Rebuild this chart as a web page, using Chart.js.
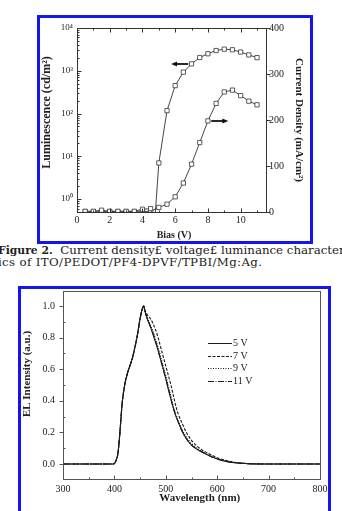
<!DOCTYPE html>
<html>
<head>
<meta charset="utf-8">
<script src="https://cdn.jsdelivr.net/npm/chart.js@4.4.1/dist/chart.umd.min.js"></script>
<style>
body { margin: 0; width: 342px; height: 511px; overflow: hidden; background: #fff; position: relative; }
.box { position: absolute; border: 3px solid #1414ee; box-sizing: border-box; }
canvas { position: absolute; }
#cap { position: absolute; left: -2px; top: 245px; font-family: 'DejaVu Serif', serif; font-size: 11.8px;
       line-height: 11.5px; white-space: nowrap; color: #222; }
#cap b { font-size: 10.8px; }
#cap .l2 { letter-spacing: 0.35px; }
</style>
</head>
<body>
<div class="box" style="left:37px;top:15px;width:276px;height:229px"></div>
<canvas id="jvl" width="270" height="223" style="left:40px;top:18px"></canvas>
<div id="cap"><b>Figure 2.</b>&nbsp; Current density£ voltage£ luminance characteris-<br><span class="l2">ics of ITO/PEDOT/PF4-DPVF/TPBI/Mg:Ag.</span></div>
<div class="box" style="left:18px;top:286px;width:313px;height:240px"></div>
<canvas id="el" width="307" height="222" style="left:21px;top:289px"></canvas>
<script>
const serif = "'Liberation Serif', 'Times New Roman', serif";
const ink = '#222';

// J-V-L data
const lumBias = [0.5, 1, 1.5, 2, 2.5, 3, 3.5, 4, 4.5, 4.75, 5, 5.5, 6, 6.5, 7, 7.5, 8, 8.5, 9, 9.5, 10, 10.5, 11];
const luminance = [0.52, 0.52, 0.55, 0.52, 0.52, 0.52, 0.52, 0.58, 0.6, 0.3, 7, 117, 450, 930, 1450, 2040, 2500, 2970, 3200, 3100, 2740, 2350, 2030];
const curBias = [0.5, 1, 1.5, 2, 2.5, 3, 3.5, 4, 4.5, 5, 5.5, 6, 6.5, 7, 7.5, 8, 8.5, 9, 9.5, 10, 10.5, 11];
const currentDensity = [0.5, 0.5, 1, 0.5, 0.5, 0.5, 0.5, 1, 1.5, 10, 17, 33, 63, 104, 151, 198, 236, 261, 265, 253, 241, 233];
const biasTicks = [0, 2, 4, 6, 8, 10];
const biasMinor = [1, 3, 5, 7, 9, 11];
const lumTicks = [1, 10, 100, 1000, 10000];
const curTicks = [0, 100, 200, 300, 400];
// arrows telling which axis each curve uses
const arrows = [
    { axis: 'y', from: 6.8, to: 5.75, at: 1450 },
    { axis: 'y1', from: 8.2, to: 9.25, at: 198 }
];

// EL spectra data
const wavelength = [300, 350, 398, 403, 407, 410, 415, 420, 425, 430, 435, 440, 445, 450, 455, 457,
    460, 465, 470, 475, 480, 485, 490, 495, 500, 505, 510, 515, 520, 525, 530, 540, 550, 560, 570, 580, 590, 600, 620, 640, 660, 700, 750, 800];
const el5V = [0, 0, 0, 0.02, 0.07, 0.17, 0.38, 0.5, 0.57, 0.62, 0.67, 0.74, 0.82, 0.92, 0.99, 1.0,
    0.96, 0.91, 0.87, 0.82, 0.77, 0.72, 0.66, 0.6, 0.54, 0.47, 0.41, 0.35, 0.3, 0.26, 0.22, 0.16, 0.12, 0.095, 0.077, 0.06, 0.045, 0.032, 0.015, 0.006, 0.002, 0, 0, 0];
const el7V = [0, 0, 0, 0.02, 0.07, 0.17, 0.38, 0.5, 0.57, 0.62, 0.67, 0.74, 0.82, 0.92, 0.99, 1.0,
    0.97, 0.94, 0.92, 0.89, 0.85, 0.8, 0.74, 0.68, 0.62, 0.56, 0.5, 0.43, 0.36, 0.31, 0.27, 0.2, 0.15, 0.115, 0.09, 0.072, 0.055, 0.04, 0.02, 0.008, 0.003, 0, 0, 0];
const el9V = [0, 0, 0, 0.02, 0.07, 0.17, 0.38, 0.5, 0.57, 0.62, 0.67, 0.74, 0.82, 0.92, 0.99, 1.0,
    0.96, 0.92, 0.88, 0.84, 0.79, 0.74, 0.68, 0.62, 0.56, 0.49, 0.43, 0.36, 0.31, 0.27, 0.23, 0.17, 0.13, 0.1, 0.08, 0.062, 0.047, 0.034, 0.016, 0.007, 0.002, 0, 0, 0];
const el11V = [0, 0, 0, 0.02, 0.07, 0.17, 0.38, 0.5, 0.57, 0.62, 0.67, 0.74, 0.82, 0.92, 0.99, 1.0,
    0.96, 0.91, 0.87, 0.83, 0.78, 0.72, 0.66, 0.6, 0.54, 0.48, 0.41, 0.35, 0.3, 0.26, 0.22, 0.16, 0.12, 0.095, 0.075, 0.058, 0.044, 0.031, 0.014, 0.006, 0.002, 0, 0, 0];
const voltLabels = ['5 V', '7 V', '9 V', '11 V'];
const wlTicks = [300, 400, 500, 600, 700, 800];
const wlMinor = [350, 450, 550, 650, 750];
const elTicks = [0, 0.2, 0.4, 0.6, 0.8, 1.0];
const elMinor = [0.1, 0.3, 0.5, 0.7, 0.9];

Chart.defaults.font.family = serif;
Chart.defaults.color = ink;

const sup = { 0: '\u2070', 1: '\u00b9', 2: '\u00b2', 3: '\u00b3', 4: '\u2074' };
// leading spaces nudge a centred axis title along its axis, as in the print
const nudge = n => ' '.repeat(n);

let lumMinor = [];
[0.1, 1, 10, 100, 1000].forEach(d => {
    for (let k = 2; k <= 9; k++) {
        const v = d * k;
        if (v >= 0.5 && v <= 10000) lumMinor.push(v);
    }
});

// fixed axis sizes, so the plot box sits where it does in the print
const fixSize = (w, h) => s => {
    if (w) s.width = w;
    if (h) s.height = h;
    s.paddingTop = s.paddingBottom = s.paddingLeft = s.paddingRight = 0;
};

// frame + tick marks (inward / outward like the printed figure)
const tickMarks = {
    id: 'tickMarks',
    afterDatasetsDraw(chart, args, opts) {
        const { ctx, chartArea: a } = chart;
        ctx.save();
        ctx.strokeStyle = opts.color || '#333';
        ctx.lineWidth = 1;
        ctx.strokeRect(Math.round(a.left) + 0.5, Math.round(a.top) + 0.5,
            Math.round(a.right - a.left), Math.round(a.bottom - a.top));
        ctx.beginPath();
        for (const m of opts.marks) {
            const s = chart.scales[m.scale];
            const put = (v, len, dir) => {
                const p = Math.round(s.getPixelForValue(v)) + 0.5;
                for (const e of m.edges) {
                    if (s.isHorizontal()) {
                        const y = e === 'top' ? Math.round(a.top) + 0.5 : Math.round(a.bottom) + 0.5;
                        ctx.moveTo(p, y);
                        ctx.lineTo(p, y + (e === 'top' ? 1 : -1) * dir * len);
                    } else {
                        const x = e === 'left' ? Math.round(a.left) + 0.5 : Math.round(a.right) + 0.5;
                        ctx.moveTo(x, p);
                        ctx.lineTo(x + (e === 'left' ? 1 : -1) * dir * len, p);
                    }
                }
            };
            m.major.forEach(v => put(v, 4, m.dirMajor));
            m.minor.forEach(v => put(v, 2, m.dirMinor));
        }
        ctx.stroke();
        ctx.restore();
    }
};

const arrowMarks = {
    id: 'arrowMarks',
    afterDatasetsDraw(chart, args, opts) {
        const { ctx } = chart;
        const xs = chart.scales.x;
        ctx.save();
        ctx.strokeStyle = '#111';
        ctx.fillStyle = '#111';
        ctx.lineWidth = 1.8;
        for (const ar of opts.arrows) {
            const y = Math.round(chart.scales[ar.axis].getPixelForValue(ar.at));
            const x0 = xs.getPixelForValue(ar.from), x1 = xs.getPixelForValue(ar.to);
            const dir = Math.sign(x1 - x0);
            ctx.beginPath();
            ctx.moveTo(x0, y);
            ctx.lineTo(x1 - dir * 5, y);
            ctx.stroke();
            ctx.beginPath();
            ctx.moveTo(x1, y);
            ctx.lineTo(x1 - dir * 6, y - 2.5);
            ctx.lineTo(x1 - dir * 6, y + 2.5);
            ctx.closePath();
            ctx.fill();
        }
        ctx.restore();
    }
};

const legendBox = {
    id: 'legendBox',
    afterDatasetsDraw(chart) {
        const { ctx, chartArea: a } = chart;
        ctx.save();
        ctx.font = '10px ' + serif;
        ctx.fillStyle = ink;
        ctx.textBaseline = 'middle';
        chart.data.datasets.forEach((ds, i) => {
            const y = Math.round(a.top + 52 + i * 12.6) + 0.5;
            const x = a.left + 145;
            ctx.strokeStyle = ds.borderColor;
            ctx.lineWidth = 1;
            ctx.setLineDash(ds.borderDash || []);
            ctx.beginPath();
            ctx.moveTo(x, y);
            ctx.lineTo(x + 24, y);
            ctx.stroke();
            ctx.fillText(ds.label, x + 25, y);
        });
        ctx.restore();
    }
};

const markerStyle = {
    borderColor: '#333',
    borderWidth: 0.9,
    pointStyle: 'rect',
    pointRadius: 3,
    pointBackgroundColor: '#fff',
    pointBorderColor: '#333',
    pointBorderWidth: 0.8,
    tension: 0
};

new Chart(document.getElementById('jvl'), {
    type: 'line',
    data: {
        datasets: [
            Object.assign({ label: 'Luminescence', data: lumBias.map((v, i) => ({ x: v, y: luminance[i] })), yAxisID: 'y' }, markerStyle),
            Object.assign({ label: 'Current Density', data: curBias.map((v, i) => ({ x: v, y: currentDensity[i] })), yAxisID: 'y1' }, markerStyle)
        ]
    },
    options: {
        responsive: false,
        animation: false,
        layout: { padding: { top: 10 } },
        plugins: {
            legend: { display: false },
            tooltip: { enabled: false },
            tickMarks: {
                marks: [
                    { scale: 'x', edges: ['bottom', 'top'], major: biasTicks, minor: biasMinor, dirMajor: 1, dirMinor: 1 },
                    { scale: 'y', edges: ['left'], major: lumTicks, minor: lumMinor, dirMajor: 1, dirMinor: 1 },
                    { scale: 'y1', edges: ['right'], major: curTicks, minor: [], dirMajor: -1, dirMinor: -1 }
                ]
            },
            arrowMarks: { arrows: arrows }
        },
        scales: {
            x: {
                type: 'linear', min: 0, max: 11.55,
                grid: { display: false, drawTicks: false },
                border: { display: false },
                afterBuildTicks: s => { s.ticks = biasTicks.map(v => ({ value: v })); },
                afterFit: fixSize(0, 29),
                ticks: { padding: 2, font: { size: 10 }, maxRotation: 0 },
                title: { display: true, text: nudge(2) + 'Bias (V)', font: { size: 10, weight: 'bold' }, padding: { top: 0, bottom: 0 } }
            },
            y: {
                type: 'logarithmic', position: 'left', min: 0.5, max: 10000,
                grid: { display: false, drawTicks: false },
                border: { display: false },
                afterBuildTicks: s => { s.ticks = lumTicks.map(v => ({ value: v })); },
                afterFit: fixSize(37, 0),
                ticks: { padding: 4, font: { size: 9 }, callback: v => '10' + sup[Math.round(Math.log10(v))] },
                title: { display: true, text: nudge(5) + 'Luminescence (cd/m\u00b2)', font: { size: 12, weight: 'bold' }, padding: 0 }
            },
            y1: {
                type: 'linear', position: 'right', min: 0, max: 400,
                grid: { display: false, drawTicks: false },
                border: { display: false },
                afterBuildTicks: s => { s.ticks = curTicks.map(v => ({ value: v })); },
                afterFit: fixSize(44, 0),
                ticks: { padding: 3, font: { size: 10 } },
                title: { display: true, text: 'Current Density (mA/cm\u00b2)', font: { size: 11, weight: 'bold' }, padding: { top: 5, bottom: 0 } }
            }
        }
    },
    plugins: [tickMarks, arrowMarks]
});

const dashes = [[], [3, 1.5], [1, 1.5], [6, 1.5, 1, 1.5]];
const spectra = [el5V, el7V, el9V, el11V];

new Chart(document.getElementById('el'), {
    type: 'line',
    data: {
        datasets: spectra.map((s, k) => ({
            label: voltLabels[k],
            data: wavelength.map((w, i) => ({ x: w, y: s[i] })),
            borderColor: '#1a1a1a',
            borderWidth: 1.1,
            borderDash: dashes[k],
            pointRadius: 0,
            cubicInterpolationMode: 'monotone'
        }))
    },
    options: {
        responsive: false,
        animation: false,
        layout: { padding: { top: 2, right: 8 } },
        plugins: {
            legend: { display: false },
            tooltip: { enabled: false },
            tickMarks: {
                color: '#555',
                marks: [
                    { scale: 'x', edges: ['bottom'], major: wlTicks, minor: wlMinor, dirMajor: 1, dirMinor: 1 },
                    { scale: 'y', edges: ['left'], major: elTicks, minor: elMinor, dirMajor: -1, dirMinor: 1 }
                ]
            }
        },
        scales: {
            x: {
                type: 'linear', min: 300, max: 800,
                grid: { display: false, drawTicks: false },
                border: { display: false },
                afterBuildTicks: s => { s.ticks = wlTicks.map(v => ({ value: v })); },
                afterFit: fixSize(0, 32),
                ticks: { padding: 4, font: { size: 10 }, maxRotation: 0 },
                title: { display: true, text: nudge(6) + 'Wavelength (nm)', font: { size: 11, weight: 'bold' }, padding: { top: 0, bottom: 6 } }
            },
            y: {
                type: 'linear', min: -0.095, max: 1.095,
                grid: { display: false, drawTicks: false },
                border: { display: false },
                afterBuildTicks: s => { s.ticks = elTicks.map(v => ({ value: v })); },
                afterFit: fixSize(42, 0),
                ticks: { padding: 8, font: { size: 10 }, callback: v => v.toFixed(1) },
                title: { display: true, text: nudge(8) + 'EL Intensity (a.u.)', font: { size: 11, weight: 'bold' }, padding: 0 }
            }
        }
    },
    plugins: [tickMarks, legendBox]
});
</script>
</body>
</html>
